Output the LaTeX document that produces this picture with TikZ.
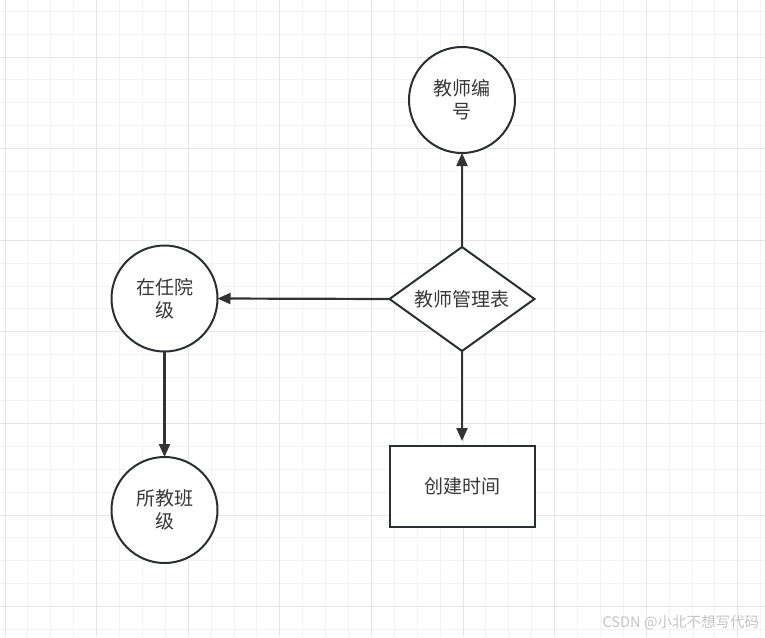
\documentclass[tikz,border=0pt]{standalone}
\usepackage{fontspec}
\setmainfont{Noto Sans CJK SC}
\usetikzlibrary{shapes.geometric,arrows.meta}
\definecolor{gridminor}{HTML}{F3F3F3}
\definecolor{gridmajor}{HTML}{E6E6E6}
\definecolor{shapeline}{HTML}{2B2E33}
\definecolor{arrowline}{HTML}{333333}
\definecolor{txt}{HTML}{383838}
\definecolor{wm}{HTML}{C4C4C4}
\tikzset{
  every node/.style={outer sep=0pt, inner sep=0pt, text=txt, font=\fontsize{19}{23}\selectfont},
  entity/.style={circle, draw=shapeline, line width=2pt, fill=white, minimum size=106pt, align=center},
  relation/.style={diamond, aspect=1.394, draw=shapeline, line width=2pt, fill=white, minimum width=145pt, minimum height=104pt},
  attrbox/.style={rectangle, draw=shapeline, line width=2pt, fill=white, minimum width=145pt, minimum height=81pt},
  link/.style={draw=arrowline, line width=2.2pt, -{Triangle[length=13pt,width=11pt]}},
}
\begin{document}
\begin{tikzpicture}[x=1pt,y=-1pt]
\useasboundingbox (0,0) rectangle (765,637);
\fill[white] (0,0) rectangle (765,637);
% minor grid
\foreach \k in {0,...,33} {\draw[gridminor, line width=1pt] ({5+22.9*\k},0) -- ({5+22.9*\k},637);}
\foreach \k in {-2,...,25} {\draw[gridminor, line width=1pt] (0,{57+22.9*\k}) -- (765,{57+22.9*\k});}
% major grid
\foreach \k in {0,...,8} {\draw[gridmajor, line width=1pt] ({5+91.6*\k},0) -- ({5+91.6*\k},637);}
\foreach \k in {0,...,6} {\draw[gridmajor, line width=1pt] (0,{57+91.6*\k}) -- (765,{57+91.6*\k});}

\node[entity] (num) at (462,100) {教师编\\号};
\node[relation] (tbl) at (462,299) {教师管理表};
\node[entity] (dept) at (164.5,298.5) {在任院\\级};
\node[entity] (cls) at (164.5,510) {所教班\\级};
\node[attrbox] (time) at (462,486.5) {创建时间};
\coordinate (timetop) at (462,441);

\draw[link] (tbl.north) -- (num.south);
\draw[link] (tbl.west) -- (dept.east);
\draw[link] (tbl.south) -- (timetop);
\draw[link] (dept.south) -- (cls.north);

\node[anchor=east, text=wm, font=\fontsize{14.5}{16}\selectfont] (mark) at (759,623) {CSDN @小北不想写代码};
\end{tikzpicture}
\end{document}
